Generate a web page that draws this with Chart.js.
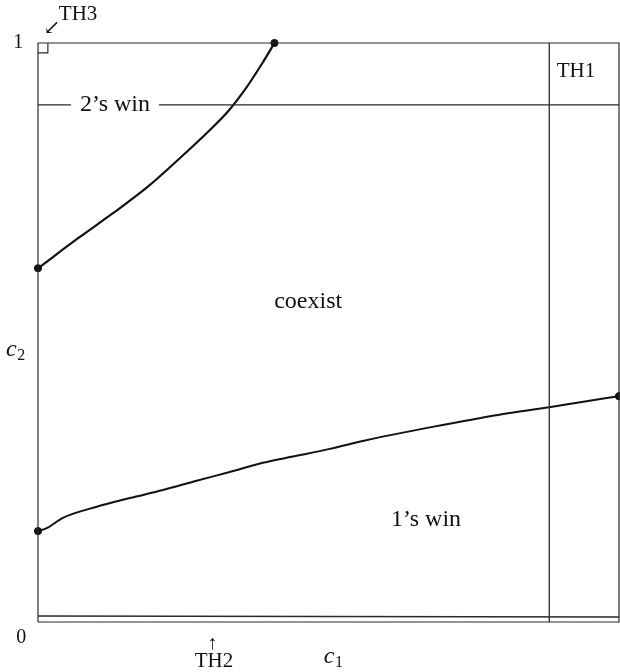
<!DOCTYPE html>
<html><head><meta charset="utf-8">
<script src="https://cdn.jsdelivr.net/npm/chart.js@4"></script>
<style>html,body{margin:0;padding:0;background:#fff}#wrap{width:620px;height:672px}</style>
</head><body><div id="wrap"><canvas id="c"></canvas></div>
<script>
// Upper boundary (2's win / coexist)
const upperC1 = [0, 0.072, 0.129, 0.188, 0.244, 0.291, 0.328, 0.358, 0.386, 0.407];
const upperC2 = [0.611, 0.665, 0.706, 0.751, 0.801, 0.845, 0.883, 0.922, 0.965, 1.0];
// Lower boundary (coexist / 1's win)
const lowerC1 = [0, 0.015, 0.043, 0.101, 0.158, 0.215, 0.273, 0.330, 0.387, 0.445, 0.502, 0.565, 0.679, 0.794, 0.880, 0.936, 1.0];
const lowerC2 = [0.157, 0.162, 0.180, 0.199, 0.214, 0.228, 0.244, 0.259, 0.275, 0.287, 0.299, 0.314, 0.337, 0.358, 0.371, 0.380, 0.390];
// Thresholds
const th1C1 = 0.88;          // vertical TH1
const twoWinC2 = 0.893;      // horizontal "2's win" line
const th2C1 = [0, 1];        // TH2 line near bottom
const th2C2 = [0.0104, 0.0086];
const th3Size = 0.017;       // TH3 small square
// Axis tick labels
const tickLabels = ['0', '1'];

const pts = (xs, ys) => xs.map((x, i) => ({x, y: ys[i]}));
const ink = '#111';
const thin = '#2a2a2a';

const frame = [{x:0,y:0},{x:0,y:1},{x:1,y:1},{x:1,y:0},{x:0,y:0}];
const th3Box = [{x:0,y:1-th3Size},{x:th3Size,y:1-th3Size},{x:th3Size,y:1}];
const endpoints = [
  {x: upperC1[0], y: upperC2[0]},
  {x: upperC1[upperC1.length-1], y: upperC2[upperC2.length-1]},
  {x: lowerC1[0], y: lowerC2[0]},
  {x: lowerC1[lowerC1.length-1], y: lowerC2[lowerC2.length-1]}
];

const SERIF = '"Liberation Serif", "DejaVu Serif", serif';
// text annotations: [text, x, y, fontSize, whiteBg]
const annotations = [
  ["2\u2019s win", 0.1325, twoWinC2, 24, true],
  ["coexist", 0.465, 0.553, 24, false],
  ["1\u2019s win", 0.668, 0.176, 24, false],
  ["TH1", 0.926, 0.95, 21, false],
  ["TH3", 0.069, 1.05, 21, false],
  ["\u2199", 0.024, 1.024, 20, false],
  ["TH2", 0.303, -0.069, 21, false],
  ["\u2191", 0.300, -0.037, 20, false],
  [tickLabels[1], -0.034, 1.0, 20, false],
  [tickLabels[0], -0.029, -0.027, 20, false],
  [tickLabels[1], 1.012, -0.033, 20, false]
];

const textPlugin = {
  id: 'texts',
  afterDatasetsDraw(chart) {
    const {ctx, scales: {x, y}} = chart;
    ctx.save();
    ctx.textAlign = 'center';
    ctx.textBaseline = 'middle';
    for (const [t, dx, dy, fs, bg] of annotations) {
      const px = x.getPixelForValue(dx), py = y.getPixelForValue(dy);
      ctx.font = fs + 'px ' + SERIF;
      if (bg) {
        const w = ctx.measureText(t).width;
        ctx.fillStyle = '#fff';
        ctx.fillRect(px - w/2 - 9, py - 4, w + 18, 8);
      }
      ctx.fillStyle = ink;
      ctx.fillText(t, px, py);
    }
    // axis titles c1, c2 (italic c with subscript)
    const sub = (dx, dy, s) => {
      const px = x.getPixelForValue(dx), py = y.getPixelForValue(dy);
      ctx.font = 'italic 24px ' + SERIF;
      ctx.textAlign = 'left';
      ctx.textBaseline = 'alphabetic';
      const w = ctx.measureText('c').width;
      ctx.fillText('c', px - 7, py + 4);
      ctx.font = '16px ' + SERIF;
      ctx.fillText(s, px - 7 + w + 0.5, py + 8);
    };
    sub(0.504, -0.064, '1');
    sub(-0.043, 0.466, '2');
    ctx.restore();
  }
};

const lineDs = (data, color, width, extra) => Object.assign({
  data, showLine: true, borderColor: color, backgroundColor: color,
  borderWidth: width, pointRadius: 0, fill: false, clip: false, tension: 0
}, extra || {});

new Chart(document.getElementById('c'), {
  type: 'scatter',
  data: {
    datasets: [
      lineDs(frame, thin, 1.2),
      lineDs(th3Box, thin, 1.2),
      lineDs([{x: th1C1, y: 0}, {x: th1C1, y: 1}], thin, 1.3),
      lineDs([{x: 0, y: twoWinC2}, {x: 1, y: twoWinC2}], thin, 1.3),
      lineDs(pts(th2C1, th2C2), thin, 1.3),
      lineDs(pts(upperC1, upperC2), ink, 2.2, {cubicInterpolationMode: 'monotone'}),
      lineDs(pts(lowerC1, lowerC2), ink, 2, {cubicInterpolationMode: 'monotone'}),
      {data: endpoints, pointRadius: 3.6, pointBackgroundColor: ink, pointBorderColor: ink, showLine: false, clip: false}
    ]
  },
  options: {
    responsive: true,
    maintainAspectRatio: false,
    animation: false,
    layout: {autoPadding: false, padding: {left: 38, top: 43, right: 1, bottom: 50}},
    plugins: {legend: {display: false}, tooltip: {enabled: false}},
    scales: {
      x: {type: 'linear', min: 0, max: 1, display: false},
      y: {type: 'linear', min: 0, max: 1, display: false}
    }
  },
  plugins: [textPlugin]
});
</script>
</body></html>
